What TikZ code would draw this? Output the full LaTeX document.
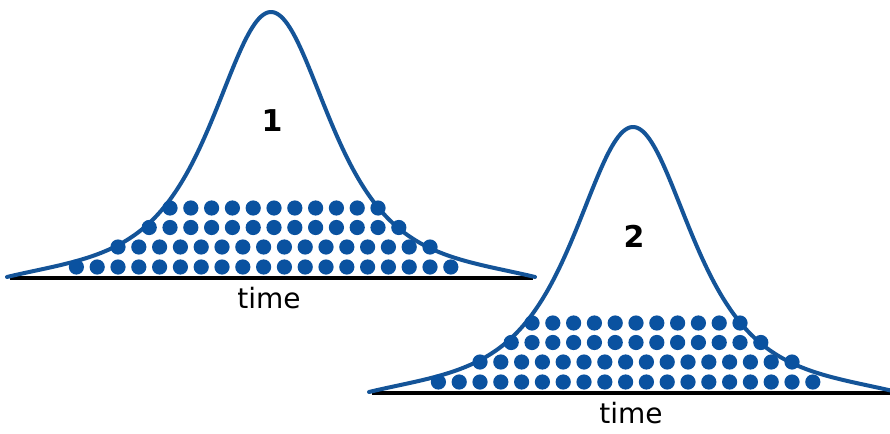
\documentclass[tikz,border=0pt]{standalone}
\usepackage{fontspec}
\setmainfont{DejaVu Sans}
\definecolor{curveblue}{RGB}{20,84,152}
\definecolor{dotblue}{RGB}{10,82,160}
\begin{document}
\begin{tikzpicture}[x=1pt,y=-1pt,
  bell/.style={draw=curveblue,line width=4pt,line cap=round,line join=round},
  axisline/.style={draw=black,line width=3.4pt},
  dotfill/.style={fill=dotblue},
  lbl/.style={font=\fontsize{28}{30}\selectfont,inner sep=0pt},
  num/.style={font=\bfseries\fontsize{30}{32}\selectfont,inner sep=0pt}]
\clip (0,0) rectangle (890,433);
\fill[white] (0,0) rectangle (890,433);
\foreach \dx/\dy/\n/\nm in {0/0/1/a, 362/115/2/b} {
  \begin{scope}[shift={(\dx,\dy)}]
    \coordinate (base\nm L) at (10,278);
    \coordinate (base\nm R) at (533,278);
    \draw[axisline] (base\nm L) -- (base\nm R);
    \draw[bell] plot[domain=7:535,samples=240,smooth]
      (\x,{277-265/((1+((\x-271)/100)^2)^1.75)+7*(abs(\x-271)/264)^6});
    \foreach \k in {-2,...,16} \fill[dotfill] ({118+20.8*(\k)},267) circle[radius=7.6pt];
    \foreach \k in {0,...,15} \fill[dotfill] ({118+20.8*(\k)},247) circle[radius=7.6pt];
    \foreach \k in {1.5,2.5,...,13.5} \fill[dotfill] ({118+20.8*(\k)},227.5) circle[radius=7.6pt];
    \foreach \k in {2.5,3.5,...,12.5} \fill[dotfill] ({118+20.8*(\k)},208) circle[radius=7.6pt];
    \node[num] (num\nm) at (272,121) {\n};
    \node[lbl] (time\nm) at (269,298) {time};
  \end{scope}
}
\end{tikzpicture}
\end{document}
